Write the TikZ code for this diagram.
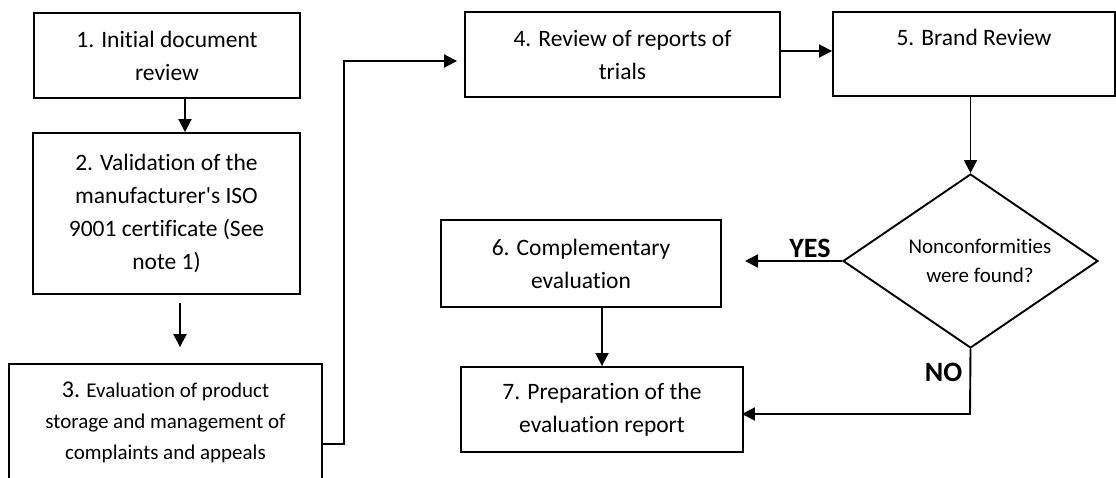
\documentclass[tikz,border=0pt]{standalone}
\usepackage{fontspec}
\setmainfont{Carlito}[Ligatures={TeXOff,NoCommon,NoContextual}]
\usetikzlibrary{shapes.geometric,arrows.meta}
\begin{document}
\begin{tikzpicture}[x=1pt,y=-1pt,
  box/.style={draw,line width=1.9pt,rectangle,inner sep=0pt,align=center,font=\fontsize{23.5}{33}\selectfont},
  arr/.style={line width=1.9pt,-{Triangle[length=13pt,width=13pt]}},
  lbl/.style={font=\fontsize{28}{30}\selectfont\bfseries,inner sep=0pt}]
\useasboundingbox (0,0) rectangle (1116,477);
\clip (0,0) rectangle (1116,477);
\node[box,minimum width=266,minimum height=85] (b1) at (167,55.5) {1. Initial document\\review};
\node[box,minimum width=267,minimum height=161] (b2) at (166.5,213.5) {2. Validation of the\\manufacturer's ISO\\9001 certificate (See\\note 1)};
\node[box,minimum width=313,minimum height=116,font=\fontsize{21}{31}\selectfont] (b3) at (165.5,422) {{\fontsize{24}{31}\selectfont 3.} Evaluation of product\\storage and management of\\complaints and appeals};
\node[box,minimum width=315,minimum height=85] (b4) at (622.5,54.5) {4. Review of reports of\\trials};
\node[box,minimum width=282,minimum height=84] (b5) at (974,54) {5. Brand Review\\\mbox{}};
\node[box,minimum width=280,minimum height=87] (b6) at (581,263.5) {6. Complementary\\evaluation};
\node[box,minimum width=282,minimum height=85] (b7) at (602,409.5) {7. Preparation of the\\evaluation report};
\node[draw,diamond,aspect=1.4655,line width=1.9pt,inner sep=0pt,minimum width=255,minimum height=174,align=center,font=\fontsize{21}{29}\selectfont] (d) at (970.5,261) {\hspace*{19pt}Nonconformities\\\hspace*{19pt}were found?};
\coordinate (t1) at (344,444);
\coordinate (t2) at (344,61);
\coordinate (yesend) at (745,261);
\coordinate (noturn) at (970,414);
\draw[arr] (b1.south -| 185,0) -- (b2.north -| 185,0);
\draw[arr,shorten <=8pt,shorten >=16pt] (b2.south -| 180,0) -- (b3.north -| 180,0);
\draw[arr,shorten >=7pt] (b3.east |- t1) -- (t1) -- (t2) -- (b4.west |- t2);
\draw[arr] (b4.east |- 0,51) -- (b5.west |- 0,51);
\draw[arr] (b5.south -| d.north) -- (d.north);
\draw[arr] (d.west) -- (yesend);
\draw[arr] (b6.south -| b7.north) -- (b7.north);
\draw[arr,shorten >=-2pt] (d.south) -- (noturn) -- (b7.east |- noturn);
\node[lbl] (yes) at (810,248) {YES};
\node[lbl] (no) at (943.5,372) {NO};
\end{tikzpicture}
\end{document}
